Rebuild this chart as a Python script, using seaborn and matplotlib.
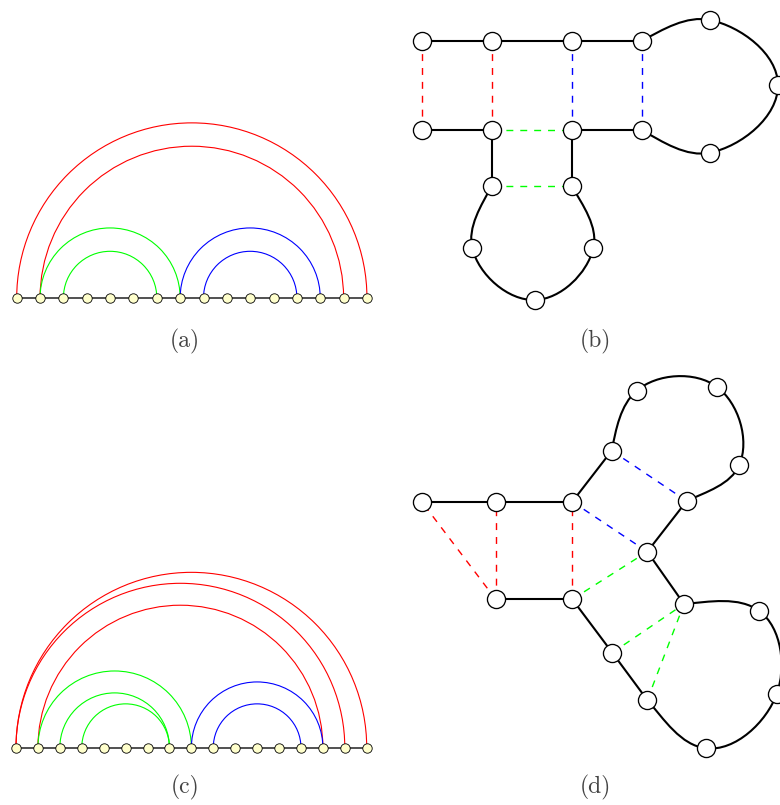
import numpy as np
import matplotlib
matplotlib.use("Agg")
import matplotlib.pyplot as plt
from matplotlib.patches import Arc, PathPatch
from matplotlib.path import Path
import seaborn as sns

W, H = 780, 805

# (a) arc diagram / (b) secondary structure, 16 bases
n_a = 16
pairs_a = [(0, 15), (1, 14), (1, 7), (2, 6), (7, 13), (8, 12)]
helix_a = ["H1", "H1", "H2", "H2", "H3", "H3"]
x_b = [421.7, 491.7, 491.7, 472.3, 535.0, 593.3, 571.7, 571.7,
       641.7, 710.0, 778.0, 710.0, 641.7, 571.7, 491.7, 421.7]
y_b = [130.0, 130.0, 186.0, 248.3, 300.0, 248.3, 186.0, 130.0,
       130.0, 152.7, 85.0, 20.0, 41.0, 41.0, 41.0, 41.0]

# (c) arc diagram / (d) secondary structure, 17 bases
n_c = 17
pairs_c = [(0, 16), (0, 15), (1, 14), (1, 8), (2, 7), (3, 7), (8, 14), (9, 13)]
helix_c = ["H1", "H1", "H1", "H2", "H2", "H2", "H3", "H3"]
x_d = [495.7, 572.3, 612.3, 647.3, 706.0, 776.7, 759.3, 684.0, 647.3,
       686.7, 739.3, 716.7, 636.7, 611.7, 572.3, 495.7, 421.7]
y_d = [599.3, 599.3, 652.7, 700.0, 748.3, 694.0, 611.0, 604.0, 551.7,
       501.0, 465.0, 386.7, 390.7, 450.7, 501.7, 501.7, 501.7]

panel_labels = ["(a)", "(b)", "(c)", "(d)"]

palette = {"H1": "#ff0000", "H2": "#00ff00", "H3": "#0000ff"}

sns.set_theme(style="white")
plt.rcParams["lines.scale_dashes"] = False

fig = plt.figure(figsize=(W / 100, H / 100), dpi=100)


def add_box(x0, y0, x1, y1):
    ax = fig.add_axes([x0 / W, 1 - y1 / H, (x1 - x0) / W, (y1 - y0) / H])
    ax.axis("off")
    return ax


def arc_panel(box, n, pairs, helix, x_first, step, base_y):
    x0, y0, x1, y1 = box
    ax = add_box(*box)
    ax.set_xlim((x0 - x_first) / step, (x1 - x_first) / step)
    ax.set_ylim((base_y - y1) / step, (base_y - y0) / step)
    ax.plot([0, n - 1], [0, 0], color="#222222", lw=1.1, zorder=1)
    for (i, j), h in zip(pairs, helix):
        ax.add_patch(Arc(((i + j) / 2, 0), j - i, j - i, theta1=0, theta2=180,
                         color=palette[h], lw=0.8, zorder=2))
    sns.scatterplot(x=np.arange(n), y=np.zeros(n), ax=ax, s=46, color="#ffffcc",
                    edgecolor="black", linewidth=0.6, zorder=3, legend=False)
    return ax


def smooth(chain, blend=0.35):
    # round loop through the chain: tangents perpendicular to the loop centre,
    # ends blended with the chord
    P = np.asarray(chain, dtype=float)
    m = len(P)
    c = P.mean(axis=0)
    u = np.empty_like(P)
    for s in range(m):
        r = P[s] - c
        perp = np.array([-r[1], r[0]])
        ref = P[min(s + 1, m - 1)] - P[max(s - 1, 0)]
        if perp @ ref < 0:
            perp = -perp
        perp /= np.linalg.norm(perp)
        if s in (0, m - 1):
            chord = ref / np.linalg.norm(ref)
            perp = blend * perp + (1 - blend) * chord
            perp /= np.linalg.norm(perp)
        u[s] = perp
    verts = [P[0]]
    codes = [Path.MOVETO]
    for s in range(m - 1):
        L = np.linalg.norm(P[s + 1] - P[s])
        verts += [P[s] + u[s] * L / 3, P[s + 1] - u[s + 1] * L / 3, P[s + 1]]
        codes += [Path.CURVE4] * 3
    return Path(verts, codes)


def graph_panel(box, xs, ys, pairs, helix):
    x0, y0, x1, y1 = box
    ax = add_box(*box)
    ax.set_xlim(x0, x1)
    ax.set_ylim(y1, y0)
    n = len(xs)
    pts = np.column_stack([xs, ys])
    paired = {k for p in pairs for k in p}
    # straight backbone between paired bases
    for k in range(n - 1):
        if k in paired and k + 1 in paired:
            ax.plot(pts[k:k + 2, 0], pts[k:k + 2, 1], color="black", lw=1.5, zorder=1)
    # loops: runs of unpaired bases, drawn as smooth curves
    k = 0
    while k < n:
        if k not in paired:
            e = k
            while e + 1 < n and e + 1 not in paired:
                e += 1
            chain = pts[max(k - 1, 0):min(e + 2, n)]
            ax.add_patch(PathPatch(smooth(chain), fill=False, color="black", lw=1.5, zorder=1))
            k = e + 1
        else:
            k += 1
    for (i, j), h in zip(pairs, helix):
        ax.plot([xs[i], xs[j]], [ys[i], ys[j]], color=palette[h], lw=1.0,
                ls=(0, (5, 5)), zorder=2)
    sns.scatterplot(x=xs, y=ys, ax=ax, s=170, color="white", edgecolor="black",
                    linewidth=0.95, zorder=3, legend=False)
    return ax


arc_panel((0, 100, 390, 320), n_a, pairs_a, helix_a, 16.7, 23.35, 298.0)
graph_panel((390, 0, 780, 330), x_b, y_b, pairs_a, helix_a)
arc_panel((0, 550, 390, 770), n_c, pairs_c, helix_c, 16.0, 21.92, 747.7)
graph_panel((390, 360, 780, 805), x_d, y_d, pairs_c, helix_c)

for label, (lx, ly) in zip(panel_labels,
                           [(185, 341), (595, 341), (185, 787), (595, 787)]):
    fig.text(lx / W, 1 - ly / H, label, ha="center", va="center",
             fontsize=17, color="#444444", family="cmr10")

fig.savefig("out.png", dpi=100, facecolor="white")
